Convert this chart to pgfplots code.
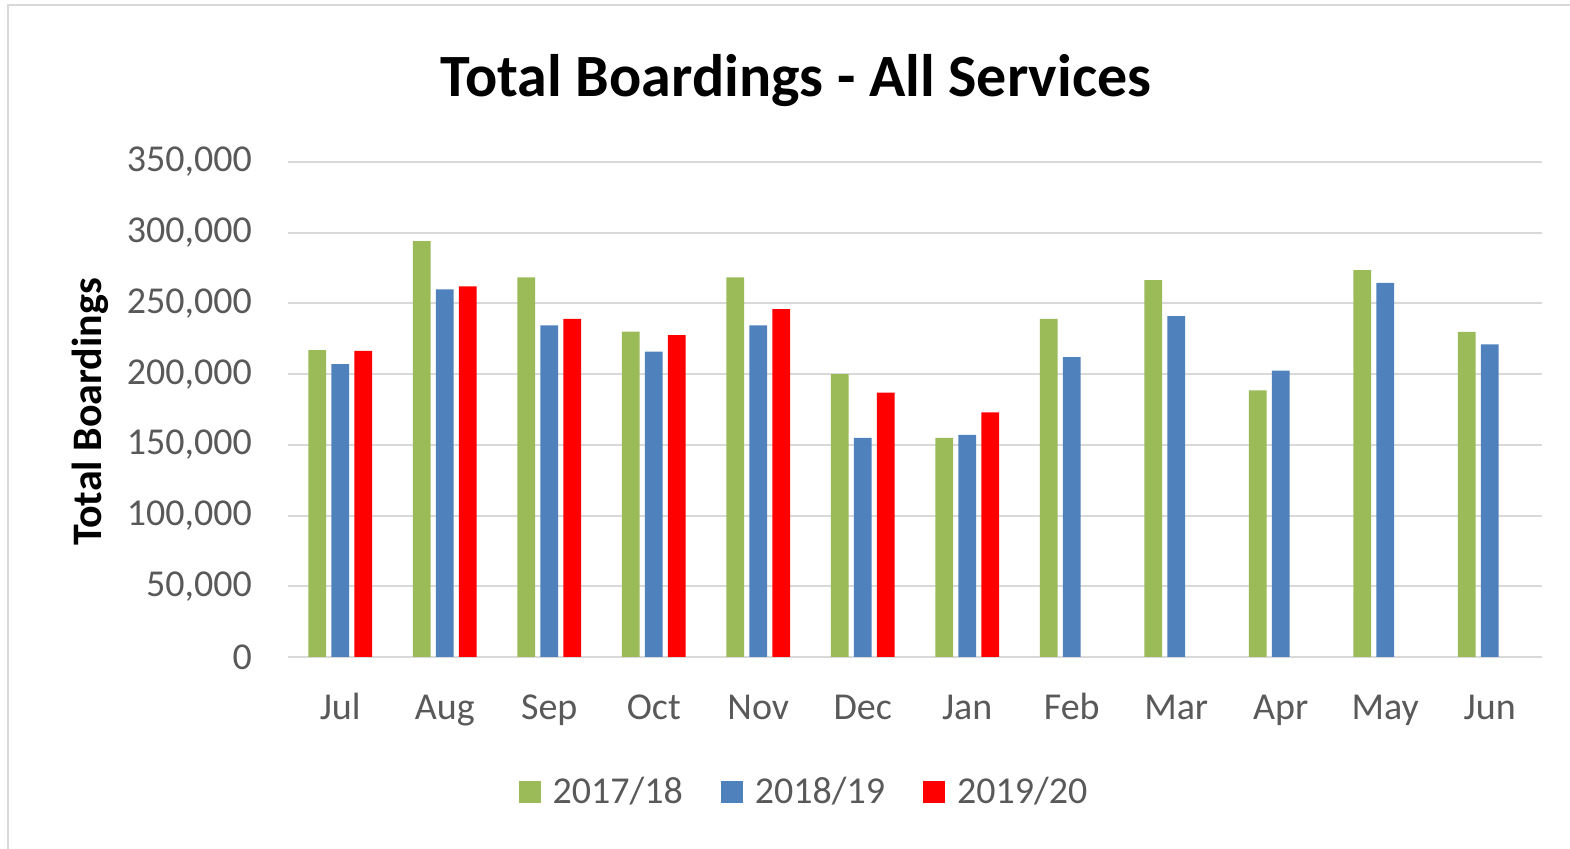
\documentclass[border=0pt]{standalone}
\usepackage{fontspec}
\setmainfont{Carlito}
\usepackage{pgfplots}
\pgfplotsset{compat=1.18}
\usepackage{pgfplotstable}

\definecolor{c1718}{HTML}{9BBB59}
\definecolor{c1819}{HTML}{4F81BD}
\definecolor{c1920}{HTML}{FF0000}
\definecolor{gridgray}{HTML}{D9D9D9}
\definecolor{txtgray}{HTML}{595959}

% month index, boardings
\pgfplotstableread{
x y
0 217000
1 294000
2 268500
3 230000
4 268500
5 200000
6 155000
7 239000
8 266500
9 188500
10 273500
11 229800
}\seasonA
\pgfplotstableread{
x y
0 207000
1 260000
2 234500
3 216000
4 234500
5 155000
6 157000
7 212000
8 241000
9 202500
10 264500
11 221000
}\seasonB
\pgfplotstableread{
x y
0 216500
1 262000
2 239000
3 227500
4 246000
5 187000
6 173000
}\seasonC

\begin{document}
\begin{tikzpicture}[x=0.5pt,y=0.5pt]
\newcommand\fs{\fontsize{19}{22}\selectfont}
% bounding box and outer frame (px -> pt: 0.5pt per px)
\useasboundingbox (-288,-192) rectangle (1282,657);
\draw[gridgray, line width=1pt] (-280,-200) rectangle (1290,652);
\begin{axis}[
    at={(0,0)}, anchor=south west,
    scale only axis,
    width=627pt, height=247.5pt,
    xmin=-0.5, xmax=11.5,
    ymin=0, ymax=350000,
    ytick={0,50000,100000,150000,200000,250000,300000,350000},
    yticklabels={0,{50,000},{100,000},{150,000},{200,000},{250,000},{300,000},{350,000}},
    xtick={0,...,11},
    xticklabels={Jul,Aug,Sep,Oct,Nov,Dec,Jan,Feb,Mar,Apr,May,Jun},
    scaled y ticks=false,
    ymajorgrids,
    grid style={gridgray, line width=1pt},
    axis x line*=bottom,
    axis y line*=left,
    x axis line style={gridgray, line width=1pt, -},
    y axis line style={draw=none},
    major tick length=0pt,
    tick style={draw=none},
    ticklabel style={font=\fs, text=txtgray},
    xticklabel style={anchor=base, yshift=-31.5pt},
    yticklabel style={anchor=east, xshift=-14.5pt},
    ylabel={\textbf{Total Boardings}},
    ylabel style={font=\fontsize{21}{24}\selectfont, text=black, at={(-99pt,122.5pt)}, anchor=center},
    ybar,
    bar width=0.17,
    legend style={draw=none, fill=none, font=\fs, text=txtgray,
        at={(258.5pt,-67.5pt)}, anchor=center,
        legend columns=3,
        /tikz/every even column/.append style={column sep=17pt}},
    legend image code/.code={\fill[#1] (0pt,-5.5pt) rectangle (11pt,5.5pt);},
    clip=false,
]
\addplot[fill=c1718, draw=none, bar shift=-0.22] table[x=x,y=y] {\seasonA};
\addplot[fill=c1819, draw=none, bar shift=0] table[x=x,y=y] {\seasonB};
\addplot[fill=c1920, draw=none, bar shift=0.22] table[x=x,y=y] {\seasonC};
\legend{\hspace{4pt}2017/18,\hspace{4pt}2018/19,\hspace{4pt}2019/20}
\end{axis}
\node[font=\fontsize{30}{36}\selectfont\bfseries] at (508,576) {Total Boardings - All Services};
\end{tikzpicture}
\end{document}
